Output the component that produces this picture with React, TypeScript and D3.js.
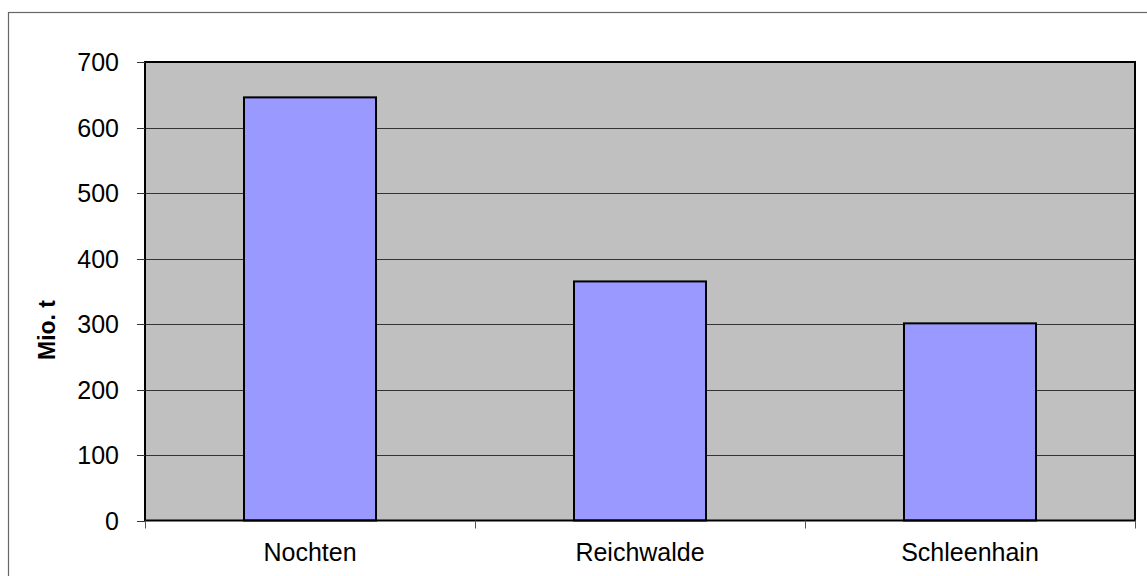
import React from "react";
import * as d3 from "d3";

const categories = ["Nochten", "Reichwalde", "Schleenhain"];
const values = [646, 365, 301];
const yTicks = [0, 100, 200, 300, 400, 500, 600, 700];
const yLabel = "Mio. t";

export default function App() {
  const W = 1147;
  const H = 576;
  const left = 145;
  const right = 1135;
  const top = 62;
  const bottom = 520.5;

  const x = d3.scaleBand<string>().domain(categories).range([left, right]).paddingInner(0.6).paddingOuter(0.3);
  const xBand = d3.scaleBand<string>().domain(categories).range([left, right]);
  const y = d3.scaleLinear().domain([0, 700]).range([bottom, top]);

  const font = "Arial, 'Liberation Sans', sans-serif";

  return (
    <svg width={W} height={H} style={{ position: "absolute", left: 0, top: 0 }} fontFamily={font}>
      <rect x={0} y={0} width={W} height={H} fill="#fff" />
      {/* outer chart frame */}
      <rect x={8.5} y={12.5} width={W + 10} height={H + 10} fill="none" stroke="#666" strokeWidth={1.2} />
      {/* plot area */}
      <rect x={left} y={top} width={right - left} height={bottom - top} fill="#c0c0c0" />
      {yTicks.slice(1, -1).map((t) => (
        <line key={t} x1={left} x2={right} y1={Math.round(y(t)) + 0.5} y2={Math.round(y(t)) + 0.5} stroke="#333" strokeWidth={1} />
      ))}
      {categories.map((c, i) => (
        <rect
          key={c}
          x={x(c)}
          y={y(values[i])}
          width={x.bandwidth()}
          height={bottom - y(values[i])}
          fill="#9999ff"
          stroke="#000"
          strokeWidth={2}
        />
      ))}
      <rect x={left} y={top} width={right - left} height={bottom - top} fill="none" stroke="#000" strokeWidth={2} />
      {/* y axis ticks and labels */}
      {yTicks.map((t) => (
        <g key={t}>
          <line x1={137} x2={left} y1={Math.round(y(t)) + 0.5} y2={Math.round(y(t)) + 0.5} stroke="#333" strokeWidth={1} />
          <text x={119} y={y(t)} dy="0.36em" textAnchor="end" fontSize={25} fill="#000">
            {t}
          </text>
        </g>
      ))}
      {/* x axis ticks at category boundaries */}
      {[...categories.map((c) => xBand(c) as number), right].map((v, i) => (
        <line key={i} x1={Math.round(v) + 0.5} x2={Math.round(v) + 0.5} y1={bottom} y2={bottom + 8} stroke="#555" strokeWidth={1} />
      ))}
      {categories.map((c) => (
        <text key={c} x={(xBand(c) as number) + xBand.bandwidth() / 2} y={561} textAnchor="middle" fontSize={25} fill="#000">
          {c}
        </text>
      ))}
      <text
        transform={`translate(55,330) rotate(-90)`}
        textAnchor="middle"
        fontSize={23}
        fontWeight="bold"
        fill="#000"
      >
        {yLabel}
      </text>
    </svg>
  );
}
